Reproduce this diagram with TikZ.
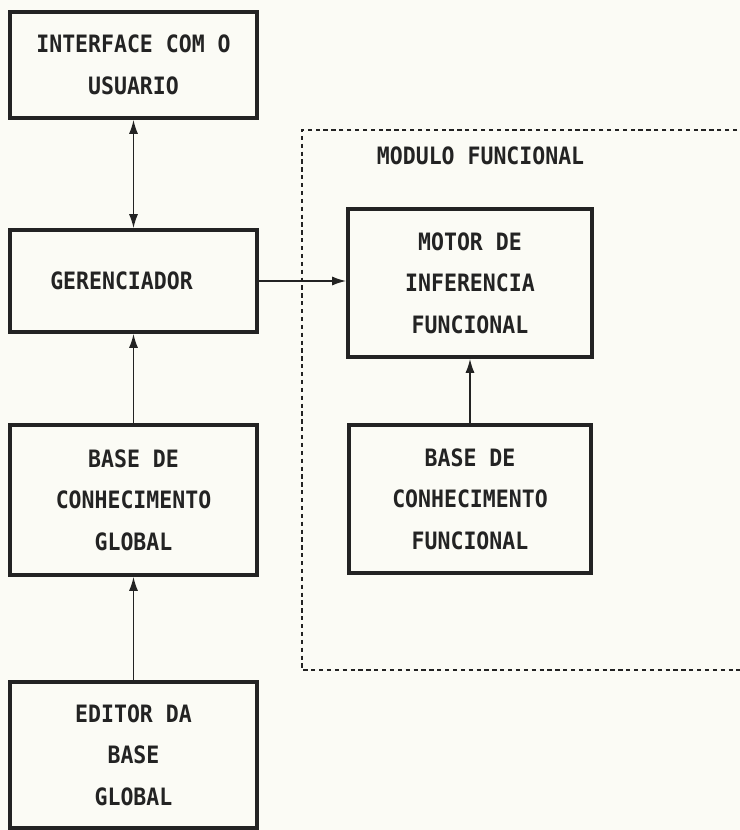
\documentclass[tikz,border=0pt]{standalone}
\usepackage{fontspec}
\newfontfamily\boxfont[FakeStretch=0.9]{DejaVu Sans Mono Bold}
\usetikzlibrary{arrows.meta}
\definecolor{paper}{RGB}{251,251,245}
\definecolor{ink}{RGB}{35,35,35}
\tikzset{
  >={Latex[length=10pt,width=6.5pt]},
  bloco/.style={draw=ink, line width=2.6pt, align=center, text=ink,
    font=\boxfont\fontsize{17}{29.5}\selectfont, inner sep=0pt},
  seta/.style={draw=ink, line width=1.1pt, ->},
  dupla/.style={draw=ink, line width=1.1pt, <->},
  modulo/.style={draw=ink, line width=1.5pt, dash pattern=on 3pt off 2.6pt}
}

\begin{document}
\begin{tikzpicture}[x=0.025cm,y=-0.025cm]
\fill[paper] (0,0) rectangle (740,830);
\useasboundingbox (0,0) rectangle (740,830);

% lado esquerdo
\node[bloco, minimum width=6.175cm, minimum height=2.65cm] (iface) at (133.5,65) {INTERFACE COM O\\USUARIO};
\node[bloco, minimum width=6.175cm, minimum height=2.55cm] (ger) at (133.5,281) {GERENCIADOR\hspace{0.6cm}};
\node[bloco, minimum width=6.175cm, minimum height=3.75cm] (bcg) at (133.5,500) {BASE DE\\CONHECIMENTO\\GLOBAL};
\node[bloco, minimum width=6.175cm, minimum height=3.65cm] (editor) at (133.5,755) {EDITOR DA\\BASE\\GLOBAL};

% modulo funcional
\draw[modulo] (745,130) -- (302,130) -- (302,670) -- (745,670);
\node[text=ink, font=\boxfont\fontsize{17}{20}\selectfont, anchor=west] (modtit) at (372,156) {MODULO FUNCIONAL};
\node[bloco, minimum width=6.1cm, minimum height=3.7cm] (motor) at (470,283) {MOTOR DE\\INFERENCIA\\FUNCIONAL};
\node[bloco, minimum width=6.05cm, minimum height=3.7cm] (bcf) at (470,499) {BASE DE\\CONHECIMENTO\\FUNCIONAL};

\draw[dupla] (iface) -- (ger);
\draw[seta] (bcg) -- (ger);
\draw[seta] (editor) -- (bcg);
\draw[seta] (bcf) -- (motor);
\draw[seta] (ger.east) -- (ger.east -| motor.west);
\end{tikzpicture}
\end{document}
